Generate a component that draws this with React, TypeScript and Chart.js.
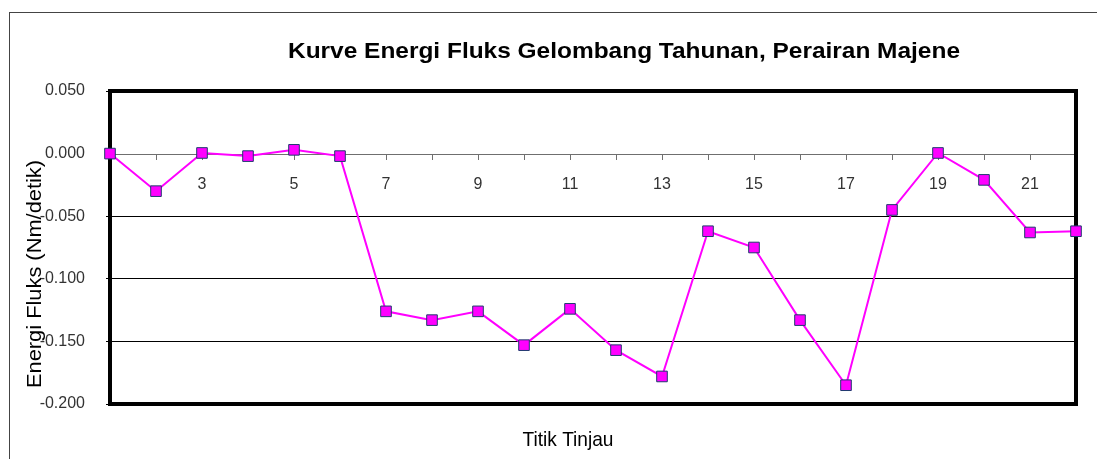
import React, { useEffect, useRef } from "react";
import { Chart, registerables } from "chart.js";

Chart.register(...registerables);

const categories = ["1", "2", "3", "4", "5", "6", "7", "8", "9", "10", "11", "12", "13", "14", "15", "16", "17", "18", "19", "20", "21", "22"];
const energyFlux = [0.0, -0.030, 0.0005, -0.002, 0.003, -0.002, -0.126, -0.133, -0.126, -0.153, -0.124, -0.157, -0.178, -0.062, -0.075, -0.133, -0.185, -0.045, 0.0005, -0.021, -0.063, -0.062];
const xTickLabels = ["3", "5", "7", "9", "11", "13", "15", "17", "19", "21"];
const yMin = -0.2;
const yMax = 0.05;
const yStep = 0.05;

const chartTitle = "Kurve Energi Fluks Gelombang Tahunan, Perairan Majene";
const xTitle = "Titik Tinjau";
const yTitle = "Energi Fluks (Nm/detik)";

const FONT = "'Liberation Sans', Arial, sans-serif";

function fillFitted(ctx: CanvasRenderingContext2D, text: string, cx: number, cy: number, width: number) {
  const w = ctx.measureText(text).width;
  ctx.save();
  ctx.translate(cx, cy);
  ctx.scale(width / w, 1);
  ctx.textAlign = "center";
  ctx.fillText(text, 0, 0);
  ctx.restore();
}

const decorPlugin = {
  id: "decor",
  beforeDatasetsDraw(chart: any) {
    const { ctx, chartArea, scales } = chart;
    const xs = scales.x;
    const ys = scales.y;
    const y0 = ys.getPixelForValue(0);
    ctx.save();
    ctx.strokeStyle = "#6f6f6f";
    ctx.lineWidth = 1;
    ctx.beginPath();
    ctx.moveTo(chartArea.left, Math.round(y0) + 0.5);
    ctx.lineTo(chartArea.right, Math.round(y0) + 0.5);
    ctx.stroke();
    ctx.beginPath();
    categories.forEach((c, i) => {
      const x = Math.round(xs.getPixelForValue(i)) + 0.5;
      ctx.moveTo(x, Math.round(y0));
      ctx.lineTo(x, Math.round(y0) + 6);
    });
    ctx.stroke();
    ctx.fillStyle = "#333";
    ctx.font = `16px ${FONT}`;
    ctx.textAlign = "center";
    ctx.textBaseline = "middle";
    xTickLabels.forEach((lab) => {
      const idx = categories.indexOf(lab);
      ctx.fillText(lab, xs.getPixelForValue(idx), Math.round(y0) + 31);
    });
    ctx.strokeStyle = "#000";
    ctx.lineWidth = 4;
    ctx.strokeRect(chartArea.left, chartArea.top, chartArea.right - chartArea.left, chartArea.bottom - chartArea.top);
    ctx.restore();
  },
  afterDraw(chart: any) {
    const { ctx } = chart;
    ctx.save();
    ctx.strokeStyle = "#444";
    ctx.lineWidth = 1;
    ctx.strokeRect(9.5, 12.5, 1200, 600);
    ctx.fillStyle = "#000";
    ctx.textBaseline = "alphabetic";
    ctx.font = `bold 22px ${FONT}`;
    fillFitted(ctx, chartTitle, 624, 58, 672);
    ctx.font = `21px ${FONT}`;
    fillFitted(ctx, xTitle, 568, 446, 91);
    ctx.translate(35, 274);
    ctx.rotate(-Math.PI / 2);
    ctx.textBaseline = "middle";
    ctx.font = `21px ${FONT}`;
    fillFitted(ctx, yTitle, 0, 0, 228);
    ctx.restore();
  },
};

export default function App() {
  const ref = useRef<HTMLCanvasElement | null>(null);
  useEffect(() => {
    document.body.style.margin = "0";
    const canvas = ref.current!;
    const chart = new Chart(canvas, {
      type: "line",
      data: {
        labels: categories,
        datasets: [
          {
            data: energyFlux,
            borderColor: "#ff00ff",
            borderWidth: 2,
            backgroundColor: "#ff00ff",
            pointStyle: "rect",
            pointRadius: 7.5,
            pointBackgroundColor: "#ff00ff",
            pointBorderColor: "#1f3a6e",
            pointBorderWidth: 1,
            tension: 0,
            clip: false,
          } as any,
        ],
      },
      options: {
        responsive: false,
        animation: false,
        layout: { padding: { top: 91, right: 21, bottom: 55, left: 0 } },
        plugins: { legend: { display: false }, tooltip: { enabled: false }, title: { display: false } },
        scales: {
          x: {
            type: "category",
            display: false,
            offset: false,
          },
          y: {
            min: yMin,
            max: yMax,
            afterFit: (s: any) => {
              s.width = 110;
            },
            ticks: {
              stepSize: yStep,
              color: "#333",
              padding: 21,
              font: { family: FONT, size: 16 },
              callback: (v: any) => {
                const n = Math.round(Number(v) * 1000) / 1000;
                return (n === 0 ? 0 : n).toFixed(3);
              },
            },
            grid: {
              color: (c: any) => (c.tick && Math.abs(c.tick.value) < 1e-9 ? "rgba(0,0,0,0)" : "#000"),
              lineWidth: 1,
              tickLength: 4,
              tickColor: "#000",
            },
            border: { display: false },
          },
        },
      },
      plugins: [decorPlugin],
    });
    return () => chart.destroy();
  }, []);
  return (
    <div style={{ position: "fixed", left: 0, top: 0, width: 1097, height: 459, background: "#fff" }}>
      <canvas ref={ref} width={1097} height={459} style={{ display: "block" }} />
    </div>
  );
}
